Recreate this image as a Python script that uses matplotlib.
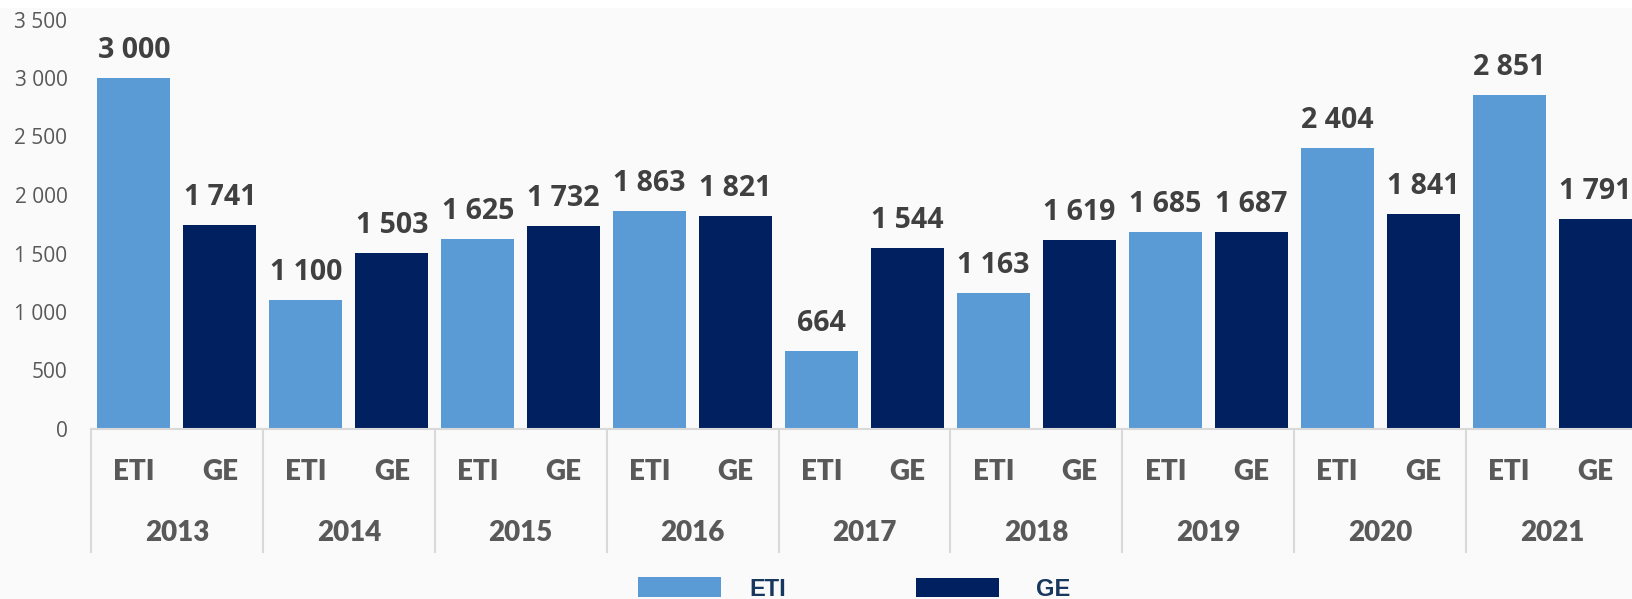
import matplotlib
matplotlib.use("Agg")
import matplotlib.pyplot as plt
from matplotlib.patches import Rectangle
from matplotlib.transforms import blended_transform_factory
import numpy as np

years = ["2013", "2014", "2015", "2016", "2017", "2018", "2019", "2020", "2021"]
series_names = ["ETI", "GE"]
eti = [3000, 1100, 1625, 1863, 664, 1163, 1685, 2404, 2851]
ge = [1741, 1503, 1732, 1821, 1544, 1619, 1687, 1841, 1791]
yticks = [0, 500, 1000, 1500, 2000, 2500, 3000, 3500]

C_ETI = "#5B9BD5"
C_GE = "#002060"
W, H = 1632, 599

def fmt(v):
    return f"{v:,}".replace(",", " ")

fig = plt.figure(figsize=(W / 100, H / 100), dpi=100, facecolor="#fafafa")
# white strip at top
fig.add_artist(Rectangle((0, 1 - 8 / H), 1, 8 / H, transform=fig.transFigure,
                         facecolor="white", edgecolor="none"))

left, right, bottom, top = 91, 1638, 429, 19.5
ax = fig.add_axes([left / W, 1 - bottom / H, (right - left) / W, (bottom - top) / H])
ax.set_facecolor("none")

n = len(years)
x_eti = np.arange(n) * 2
x_ge = np.arange(n) * 2 + 1
bw = 0.85
ax.bar(x_eti, eti, width=bw, color=C_ETI)
ax.bar(x_ge, ge, width=bw, color=C_GE)

ax.set_xlim(-0.5, 2 * n - 0.5)
ax.set_ylim(0, 3500)
ax.set_yticks(yticks)
ax.set_yticklabels([fmt(v) for v in yticks], fontfamily="Open Sans", fontsize=15, color="#595959")
ax.tick_params(axis="y", length=0, pad=17)
ax.set_xticks([])
for s in ["top", "right", "left"]:
    ax.spines[s].set_visible(False)
ax.spines["bottom"].set_color("#d9d9d9")
ax.spines["bottom"].set_linewidth(1.5)

ppu = (bottom - top) / 3500.0  # pixels per unit
off = 20 / ppu
for xs, vals in ((x_eti, eti), (x_ge, ge)):
    for x, v in zip(xs, vals):
        ax.text(x, v + off, fmt(v), ha="center", va="baseline", fontfamily="Open Sans",
                fontweight="bold", fontsize=20.5, color="#404040")

tr = blended_transform_factory(ax.transData, ax.transAxes)
ah = bottom - top
sep_bot = -(552 - bottom) / ah
for k in range(n + 1):
    ax.plot([2 * k - 0.5, 2 * k - 0.5], [0, sep_bot], transform=tr, color="#d9d9d9",
            lw=1.5, clip_on=False)

y_cat = -(472 - bottom) / ah
y_year = -(533 - bottom) / ah
for i, yr in enumerate(years):
    for j, name in enumerate(series_names):
        ax.text(2 * i + j, y_cat, name, transform=tr, ha="center", va="center",
                fontfamily="Lato", fontweight="heavy", fontsize=20, color="#595959")
    ax.text(2 * i + 0.5, y_year, yr, transform=tr, ha="center", va="center",
            fontfamily="Lato", fontweight="heavy", fontsize=20, color="#595959")

# legend
for (x0, x1, y0, y1, tx, name, col) in [(638, 721, 577, 597, 749, "ETI", C_ETI),
                                         (916, 999, 578, 597, 1036, "GE", C_GE)]:
    fig.add_artist(Rectangle((x0 / W, 1 - y1 / H), (x1 - x0) / W, (y1 - y0) / H,
                             transform=fig.transFigure, facecolor=col, edgecolor="none"))
    fig.text(tx / W, 1 - 578 / H, name, ha="left", va="top", fontfamily="Liberation Sans",
             fontweight="bold", fontsize=17, color="#17375E")

fig.savefig("out.png", dpi=100, facecolor=fig.get_facecolor())
